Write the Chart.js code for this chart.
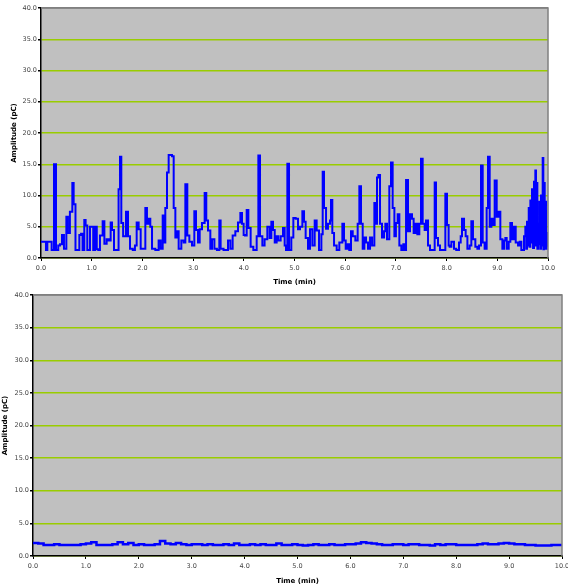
<!DOCTYPE html>
<html>
<head>
<meta charset="utf-8">
<script src="https://cdn.jsdelivr.net/npm/chart.js@4.4.0/dist/chart.umd.min.js"></script>
<style>
  html, body { margin: 0; padding: 0; background: #fff; overflow: hidden; width: 568px; height: 585px; }
  .box { position: absolute; left: 0; }
</style>
</head>
<body>
<div class="box" style="top:0; width:568px; height:286px;"><canvas id="topChart"></canvas></div>
<div class="box" style="top:285px; width:600px; height:300px;"><canvas id="bottomChart"></canvas></div>
<script>
// top recording: time (min) and amplitude (pC)
var topTimes = [0.0, 0.046, 0.07, 0.098, 0.125, 0.164, 0.21, 0.256, 0.296, 0.34, 0.374, 0.414, 0.453, 0.5, 0.53, 0.57, 0.6, 0.618, 0.644, 0.68, 0.716, 0.756, 0.79, 0.82, 0.854, 0.88, 0.913, 0.966, 1.0, 1.03, 1.065, 1.1, 1.13, 1.163, 1.216, 1.25, 1.295, 1.335, 1.374, 1.4, 1.44, 1.49, 1.53, 1.558, 1.584, 1.62, 1.65, 1.676, 1.716, 1.755, 1.81, 1.853, 1.887, 1.926, 1.966,
  2.025, 2.058, 2.09, 2.124, 2.156, 2.19, 2.255, 2.32, 2.36, 2.4, 2.426, 2.452, 2.485, 2.518, 2.55, 2.584, 2.617, 2.65, 2.682, 2.715, 2.768, 2.814, 2.847, 2.886, 2.926, 2.978, 3.024, 3.057, 3.097, 3.13, 3.175, 3.228, 3.26, 3.294, 3.34, 3.373, 3.42, 3.47, 3.517, 3.543, 3.6, 3.65, 3.688, 3.734, 3.78, 3.833, 3.885, 3.932, 3.964, 3.997,
  4.024, 4.057, 4.09, 4.135, 4.188, 4.234, 4.254, 4.287, 4.32, 4.366, 4.41, 4.464, 4.51, 4.543, 4.576, 4.61, 4.648, 4.68, 4.727, 4.773, 4.806, 4.832, 4.859, 4.892, 4.937, 4.977, 5.023, 5.069, 5.108, 5.155, 5.188, 5.22, 5.266, 5.306, 5.352, 5.398, 5.437, 5.483, 5.53, 5.556, 5.582, 5.622, 5.66, 5.7, 5.72, 5.746, 5.78, 5.832, 5.884, 5.944, 5.976, 6.01,
  6.05, 6.08, 6.115, 6.148, 6.2, 6.246, 6.279, 6.312, 6.345, 6.378, 6.41, 6.45, 6.49, 6.53, 6.575, 6.608, 6.627, 6.654, 6.687, 6.726, 6.766, 6.792, 6.825, 6.87, 6.904, 6.936, 6.97, 7.0, 7.035, 7.068, 7.107, 7.147, 7.173, 7.2, 7.239, 7.278, 7.318, 7.35, 7.384, 7.423, 7.462, 7.495, 7.528, 7.567, 7.594, 7.633, 7.673, 7.725, 7.765, 7.791, 7.83, 7.87, 7.923, 7.975, 8.008, 8.04,
  8.06, 8.094, 8.146, 8.19, 8.245, 8.278, 8.304, 8.344, 8.376, 8.41, 8.455, 8.488, 8.52, 8.567, 8.607, 8.64, 8.679, 8.712, 8.75, 8.79, 8.817, 8.85, 8.883, 8.916, 8.948, 8.988, 9.027, 9.06, 9.1, 9.133, 9.159, 9.185, 9.225, 9.257, 9.29, 9.323, 9.363, 9.409, 9.442, 9.474, 9.527, 9.553, 9.57, 9.586, 9.6, 9.62, 9.635, 9.652, 9.67, 9.685, 9.705, 9.724, 9.737, 9.75, 9.763, 9.777, 9.79, 9.803, 9.815, 9.83, 9.846, 9.862, 9.88, 9.895, 9.908, 9.92, 9.935, 9.948, 9.96, 9.974, 10.0];
var topAmps = [2.6, 2.6, 2.6, 1.3, 2.6, 2.6, 1.3, 15.0, 1.3, 2.0, 2.2, 3.7, 1.5, 6.6, 4.0, 7.4, 7.4, 12.0, 8.6, 1.3, 1.3, 3.7, 3.9, 1.3, 6.1, 5.2, 1.3, 5.0, 5.0, 1.3, 5.0, 1.4, 1.3, 3.6, 5.9, 2.3, 3.0, 2.8, 5.7, 4.5, 1.3, 1.3, 11.0, 16.2, 5.6, 3.5, 3.5, 7.4, 3.5, 1.5, 1.3, 2.0, 5.7, 4.6, 1.5,
  1.5, 8.0, 5.5, 6.3, 5.0, 1.5, 1.3, 2.8, 1.5, 6.8, 2.5, 8.0, 13.7, 16.5, 16.5, 16.3, 8.0, 3.3, 4.3, 1.5, 2.8, 2.5, 11.8, 3.6, 2.6, 2.0, 7.5, 4.5, 2.5, 4.6, 5.6, 10.4, 6.0, 4.4, 1.5, 3.0, 1.5, 1.3, 6.0, 1.5, 1.3, 1.3, 2.8, 1.5, 3.6, 4.3, 5.7, 7.2, 5.5, 3.7,
  3.6, 7.7, 4.8, 1.8, 1.3, 1.3, 3.5, 16.4, 3.5, 2.0, 3.0, 5.0, 3.2, 5.8, 4.5, 2.5, 3.5, 2.8, 3.5, 4.8, 2.0, 1.3, 15.1, 1.3, 3.3, 6.4, 6.3, 4.6, 5.0, 7.5, 5.8, 3.2, 1.5, 4.6, 2.0, 6.0, 4.4, 1.3, 3.8, 13.8, 8.0, 4.7, 5.5, 6.0, 9.3, 4.0, 2.0, 1.3, 2.5, 5.5, 2.8, 1.5,
  2.2, 1.3, 4.3, 3.5, 2.8, 5.5, 11.5, 5.5, 1.5, 3.3, 2.5, 1.5, 3.3, 2.0, 8.8, 5.5, 12.9, 13.3, 5.5, 3.3, 4.3, 5.5, 3.0, 11.5, 15.3, 8.0, 3.5, 5.6, 7.0, 2.0, 1.3, 2.2, 1.3, 12.5, 4.3, 7.0, 6.3, 4.0, 5.5, 3.8, 5.5, 15.9, 5.5, 4.5, 6.0, 2.0, 1.3, 1.3, 12.1, 3.2, 2.0, 1.3, 1.3, 10.3, 5.3, 2.0,
  1.8, 2.6, 1.5, 1.3, 2.5, 3.5, 6.3, 4.5, 3.5, 1.5, 2.0, 5.9, 3.0, 1.8, 1.5, 2.0, 14.8, 2.5, 1.5, 8.0, 16.2, 5.0, 6.3, 5.3, 12.4, 6.6, 7.4, 3.0, 1.5, 2.8, 3.2, 1.5, 2.6, 5.6, 3.0, 5.0, 2.5, 2.0, 2.6, 1.3, 3.5, 5.0, 1.5, 5.8, 2.0, 8.0, 1.8, 9.2, 2.5, 11.0, 1.6, 12.2, 3.0, 14.0, 2.0, 12.0, 1.5, 5.5, 2.2, 9.0, 1.5, 10.0, 2.0, 16.0, 1.4, 12.0, 2.0, 9.0, 1.5, 4.0, 1.8];

// bottom recording: one reading every 0.1 min
var bottomTimes = [];
for (var i = 0; i <= 100; i++) bottomTimes.push(i / 10);
var bottomAmps = [2.0, 1.9, 1.7, 1.7, 1.8, 1.7, 1.7, 1.7, 1.7, 1.8,
  1.9, 2.1, 1.7, 1.7, 1.7, 1.8, 2.1, 1.8, 2.0, 1.7,
  1.8, 1.7, 1.7, 1.8, 2.3, 1.9, 1.8, 2.0, 1.8, 1.7,
  1.8, 1.8, 1.7, 1.8, 1.7, 1.7, 1.8, 1.7, 1.9, 1.7,
  1.7, 1.8, 1.7, 1.8, 1.7, 1.7, 1.9, 1.7, 1.7, 1.8,
  1.7, 1.6, 1.7, 1.8, 1.7, 1.7, 1.8, 1.7, 1.7, 1.8,
  1.8, 1.9, 2.1, 2.0, 1.9, 1.8, 1.7, 1.7, 1.8, 1.8,
  1.7, 1.8, 1.8, 1.7, 1.7, 1.6, 1.8, 1.7, 1.8, 1.8,
  1.7, 1.7, 1.7, 1.7, 1.8, 1.9, 1.8, 1.8, 1.9, 2.0,
  1.9, 1.8, 1.8, 1.7, 1.7, 1.6, 1.6, 1.6, 1.7, 1.7, 1.7];

var yTicks = [0, 5, 10, 15, 20, 25, 30, 35, 40];
var xTicks = [0, 1, 2, 3, 4, 5, 6, 7, 8, 9, 10];

var plotBg = {
  id: 'plotBg',
  beforeDraw: function (chart) {
    var a = chart.chartArea, c = chart.ctx;
    c.save();
    c.fillStyle = '#C0C0C0';
    c.fillRect(a.left, a.top, a.right - a.left, a.bottom - a.top);
    c.restore();
  },
  afterDraw: function (chart) {
    var a = chart.chartArea, c = chart.ctx;
    c.save();
    c.strokeStyle = '#808080';
    c.lineWidth = 1.5;
    c.beginPath();
    c.moveTo(a.left, a.top);
    c.lineTo(a.right, a.top);
    c.lineTo(a.right, a.bottom);
    c.stroke();
    c.restore();
  }
};

function pairs(xs, ys) {
  return xs.map(function (x, i) { return { x: x, y: ys[i] }; });
}

function makeChart(id, xs, ys, o) {
  return new Chart(document.getElementById(id), {
    type: 'line',
    data: {
      datasets: [{
        data: pairs(xs, ys),
        borderColor: '#0000FF',
        borderWidth: o.lw,
        pointRadius: 0,
        stepped: true,
        fill: false
      }]
    },
    options: {
      responsive: true,
      maintainAspectRatio: false,
      animation: false,
      events: [],
      layout: { padding: { left: 0, top: o.top, right: o.right, bottom: 0 } },
      plugins: { legend: { display: false }, tooltip: { enabled: false } },
      scales: {
        x: {
          type: 'linear', min: 0, max: 10,
          afterBuildTicks: function (s) { s.ticks = xTicks.map(function (v) { return { value: v }; }); },
          afterFit: function (s) { s.height = o.xh; },
          ticks: { autoSkip: false, maxRotation: 0, padding: 3, color: '#444', font: { family: 'DejaVu Sans', size: 6.5 },
            callback: function (v) { return v.toFixed(1); } },
          grid: { drawOnChartArea: false, tickLength: 3, tickColor: '#000', lineWidth: 1 },
          border: { color: '#000', width: 1.5 },
          title: { display: true, text: 'Time (min)', color: '#000', padding: { top: 1, bottom: 0 },
            font: { family: 'DejaVu Sans', size: 7, weight: 'bold' } }
        },
        y: {
          min: 0, max: 40,
          afterBuildTicks: function (s) { s.ticks = yTicks.map(function (v) { return { value: v }; }); },
          afterFit: function (s) { s.width = o.yw; },
          ticks: { padding: 1, color: '#444', font: { family: 'DejaVu Sans', size: 6.5 },
            callback: function (v) { return v.toFixed(1); } },
          grid: {
            tickLength: 3, tickColor: '#000', lineWidth: 1.5,
            color: function (ctx) { return ctx.tick && ctx.tick.value === 40 ? '#808080' : '#99CC00'; }
          },
          border: { color: '#000', width: 1.5 },
          title: { display: true, text: 'Amplitude (pC)', color: '#000', padding: { top: o.tpad, bottom: 0 },
            font: { family: 'DejaVu Sans', size: 7, weight: 'bold' } }
        }
      }
    },
    plugins: [plotBg]
  });
}

makeChart('topChart', topTimes, topAmps, { top: 8, right: 20, xh: 28, yw: 41, tpad: 10, lw: 2 });
makeChart('bottomChart', bottomTimes, bottomAmps, { top: 10, right: 38, xh: 29, yw: 33, tpad: 1, lw: 2.5 });
</script>
</body>
</html>
